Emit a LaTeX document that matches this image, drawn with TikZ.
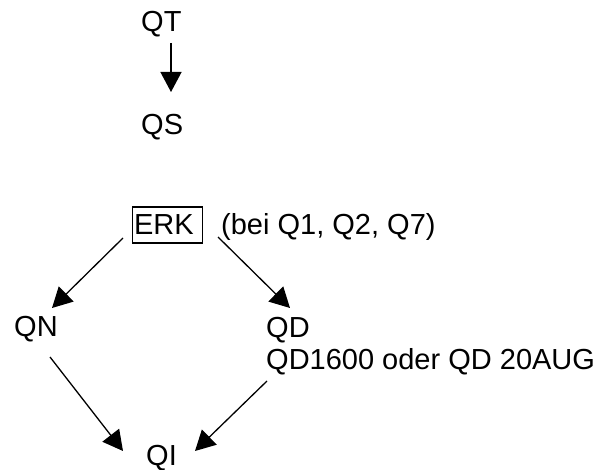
\documentclass[tikz,border=0pt]{standalone}
\usepackage{fontspec}
\setmainfont{Liberation Sans}
\usetikzlibrary{arrows.meta}
\begin{document}
\begin{tikzpicture}[x=1bp, y=-1bp,
        lbl/.style={inner sep=0pt, anchor=base west, font=\fontsize{29bp}{32bp}\selectfont},
        arr/.style={-{Triangle[length=20bp, width=21bp]}, line width=1.3bp}]
         \useasboundingbox (0, 0) rectangle (602, 470);
         \node[lbl] (qt) at (141, 32){QT};
         \node[lbl] (qs) at (141, 135){QS};
             \draw[arr]([shift={(30, 11)}]qt.base west) to ([shift={(30, -43)}]qs.base west);
         \node[lbl, draw, line width=1.3bp, inner xsep=1.5bp, inner ysep=2bp, text width=67bp,
               text height=26bp, text depth=6bp] (erk) at (132, 235){ERK};
         \node[lbl] (bei) at (221, 235){(bei Q1, Q2, Q7)};
         \node[lbl] (qn) at (14, 336){QN};
         \node[lbl] (qd) at (266, 337){QD};
         \node[lbl] (qdtime) at (266, 369){QD1600 oder QD 20AUG};
         \node[lbl] (qi) at (146, 465){QI};
             \draw[arr]([shift={(-9, 3)}]erk.base west) to ([shift={(38, -28)}]qn.base west);
             \draw[arr]([shift={(86, 2)}]erk.base west) to ([shift={(24, -29)}]qd.base west);
             \draw[arr]([shift={(36, 21)}]qn.base west) to ([shift={(-23, -14)}]qi.base west);
             \draw[arr]([shift={(1, 12)}]qdtime.base west) to ([shift={(49, -14)}]qi.base west);
     \end{tikzpicture}
\end{document}
